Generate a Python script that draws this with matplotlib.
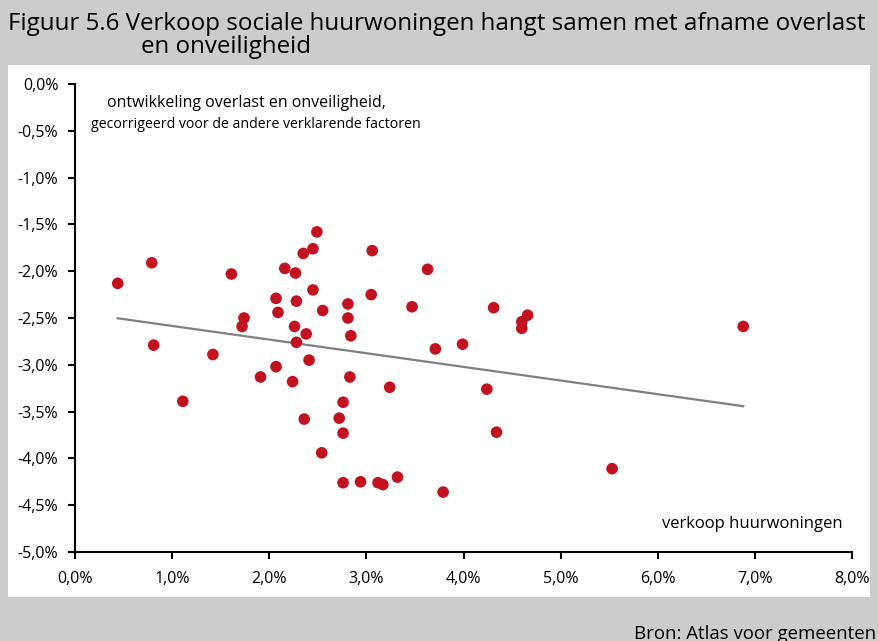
import numpy as np
import matplotlib
matplotlib.use("Agg")
import matplotlib.pyplot as plt
from matplotlib.ticker import FuncFormatter

# verkoop huurwoningen (%), ontwikkeling overlast en onveiligheid (%)
sales = [0.44, 0.79, 0.81, 1.11, 1.42, 1.61, 1.72, 1.74, 1.91, 2.07,
         2.09, 2.07, 2.16, 2.24, 2.27, 2.26, 2.28, 2.28, 2.35, 2.36,
         2.38, 2.41, 2.45, 2.45, 2.49, 2.54, 2.55, 2.72, 2.76, 2.76,
         2.76, 2.81, 2.81, 2.83, 2.84, 2.94, 3.06, 3.05, 3.12, 3.17,
         3.24, 3.32, 3.47, 3.63, 3.71, 3.79, 3.99, 4.24, 4.31, 4.34,
         4.60, 4.66, 4.60, 5.53, 6.88]
nuisance = [-2.13, -1.91, -2.79, -3.39, -2.89, -2.03, -2.59, -2.50, -3.13, -2.29,
            -2.44, -3.02, -1.97, -3.18, -2.02, -2.59, -2.32, -2.76, -1.81, -3.58,
            -2.67, -2.95, -1.76, -2.20, -1.58, -3.94, -2.42, -3.57, -3.40, -3.73,
            -4.26, -2.35, -2.50, -3.13, -2.69, -4.25, -1.78, -2.25, -4.26, -4.28,
            -3.24, -4.20, -2.38, -1.98, -2.83, -4.36, -2.78, -3.26, -2.39, -3.72,
            -2.54, -2.47, -2.61, -4.11, -2.59]

x_ticks = np.arange(0, 8.01, 1.0)
y_ticks = np.arange(-5.0, 0.01, 0.5)

title_1 = "Figuur 5.6 Verkoop sociale huurwoningen hangt samen met afname overlast"
title_2 = "en onveiligheid"
y_note1 = "ontwikkeling overlast en onveiligheid,"
y_note2 = "gecorrigeerd voor de andere verklarende factoren"
x_note = "verkoop huurwoningen"
source = "Bron: Atlas voor gemeenten"

plt.rcParams['font.family'] = ['Open Sans', 'DejaVu Sans']

W, H = 879.0, 641.0
fig = plt.figure(figsize=(W / 100, H / 100), dpi=100)
fig.patch.set_facecolor('#cccccc')

# white panel behind the chart
panel = plt.Rectangle((8 / W, 1 - 597 / H), (870 - 8) / W, (597 - 65) / H,
                      transform=fig.transFigure, facecolor='white',
                      edgecolor='none', zorder=-10)
fig.patches.append(panel)

fig.text(8 / W, 1 - 30 / H, title_1, ha='left', va='baseline', fontsize=17.4)
fig.text(141 / W, 1 - 53 / H, title_2, ha='left', va='baseline', fontsize=17.4)
fig.text(876 / W, 1 - 639 / H, source, ha='right', va='baseline', fontsize=13.4)

ax = fig.add_axes([75 / W, 1 - 552 / H, (852 - 75) / W, (552 - 84) / H])
ax.set_facecolor('none')

ax.scatter(sales, nuisance, s=70, color='#c3121f', edgecolors='none', zorder=3)

# linear trend line
coef = np.polyfit(sales, nuisance, 1)
xs = np.array([min(sales), max(sales)])
ax.plot(xs, np.polyval(coef, xs), color='#808080', lw=1.6, zorder=2)

ax.set_xlim(0, 8)
ax.set_ylim(-5, 0)
ax.set_xticks(x_ticks)
ax.set_yticks(y_ticks)
pct = FuncFormatter(lambda v, p: f"{v:.1f}%".replace('.', ','))
ax.xaxis.set_major_formatter(pct)
ax.yaxis.set_major_formatter(pct)
for s in ['top', 'right']:
    ax.spines[s].set_visible(False)
for s in ['left', 'bottom']:
    ax.spines[s].set_linewidth(1.5)
ax.tick_params(axis='both', direction='out', length=5, width=1.5,
               labelsize=11.5)
ax.tick_params(axis='y', pad=7)
ax.tick_params(axis='x', pad=9)

fig.text(246 / W, 1 - 103 / H, y_note1, ha='center', va='center', fontsize=11.5)
fig.text(256 / W, 1 - 124 / H, y_note2, ha='center', va='center', fontsize=10.2)
fig.text(752 / W, 1 - 524 / H, x_note, ha='center', va='center', fontsize=12)

fig.savefig('out.png', dpi=100, facecolor=fig.get_facecolor())
